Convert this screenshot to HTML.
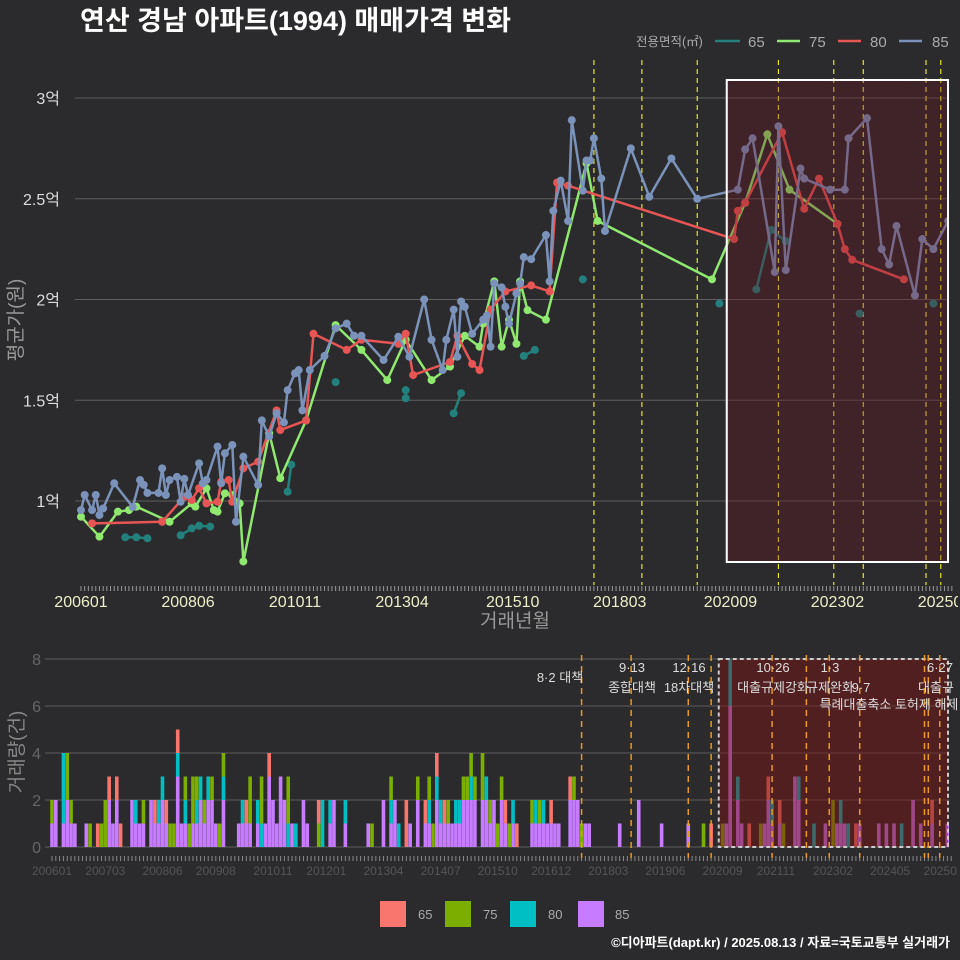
<!DOCTYPE html>
<html><head><meta charset="utf-8"><style>
body{margin:0;background:#2b2b2d;}
svg{display:block;font-family:"Liberation Sans","Noto Sans CJK KR",sans-serif;}
</style></head><body>
<svg id="chart" width="960" height="960" viewBox="0 0 960 960" xmlns="http://www.w3.org/2000/svg">
<rect width="960" height="960" fill="#2b2b2d"/>
<text x="80" y="30" fill="#ffffff" font-size="27" font-weight="bold">연산 경남 아파트(1994) 매매가격 변화</text>
<g id="legendTop" font-size="15" fill="#aaaaaa">
<text x="636" y="46" font-size="12.5">전용면적(㎡)</text>
<line x1="715" y1="41" x2="740" y2="41" stroke="#23807c" stroke-width="2.5"/><text x="748" y="47">65</text>
<line x1="777" y1="41" x2="800" y2="41" stroke="#90e870" stroke-width="2.5"/><text x="809" y="47">75</text>
<line x1="838" y1="41" x2="861" y2="41" stroke="#e85555" stroke-width="2.5"/><text x="870" y="47">80</text>
<line x1="899" y1="41" x2="922" y2="41" stroke="#7b93bb" stroke-width="2.5"/><text x="932" y="47">85</text>
</g>
<g id="topPanel"></g>
<g id="botPanel"></g>
<g font-size="13" fill="#aaaaaa">
<rect x="380" y="901" width="26" height="26" fill="#f8766d"/><text x="418" y="919">65</text>
<rect x="445" y="901" width="26" height="26" fill="#7cae00"/><text x="483" y="919">75</text>
<rect x="510" y="901" width="26" height="26" fill="#00bfc4"/><text x="548" y="919">80</text>
<rect x="578" y="901" width="26" height="26" fill="#c77cff"/><text x="615" y="919">85</text>
</g>
<text x="950" y="947" text-anchor="end" fill="#ffffff" font-size="13" font-weight="bold">©디아파트(dapt.kr) / 2025.08.13 / 자료=국토교통부 실거래가</text>
</svg>
<script>
// ---- price data (month index from 2006-01, value in 억) ----
const m85=[0,1,3,4,5,6,9,14,16,17,18,21,22,23,24,26,27,28,29,32,33,34,37,38,39,41,42,44,48,49,51,53,55,56,58,59,60,62,66,69,72,74,76,82,86,89,93,95,98,99,101,102,103,104,106,109,110,111,112,114,115,116,118,119,120,122,126,127,128,130,132,133,136,137,138,139,141,142,149,154,160,167,178,180,182,188,189,191,195,196,203,207,208,213,217,219,221,226,228,231,235];
const v85=[0.955,1.03,0.955,1.03,0.93,0.963,1.088,0.97,1.104,1.08,1.04,1.04,1.162,1.03,1.104,1.12,0.996,1.11,1.03,1.187,1.088,1.104,1.27,1.088,1.237,1.278,0.897,1.22,1.08,1.40,1.32,1.435,1.39,1.55,1.634,1.65,1.45,1.65,1.72,1.857,1.88,1.82,1.82,1.70,1.815,1.716,2.0,1.80,1.65,1.80,1.95,1.716,1.99,1.964,1.83,1.90,1.92,1.766,2.08,2.06,1.964,1.88,2.03,2.08,2.21,2.20,2.32,2.09,2.44,2.59,2.39,2.89,2.54,2.69,2.69,2.80,2.60,2.34,2.75,2.51,2.70,2.50,2.545,2.745,2.80,2.136,2.86,2.146,2.65,2.60,2.545,2.545,2.80,2.90,2.25,2.174,2.365,2.02,2.30,2.25,2.39];
const m75=[0,5,10,13,15,24,30,31,34,36,37,39,41,43,44,51,54,61,69,76,83,88,95,100,104,108,109,112,114,116,118,119,121,126,137,140,171,180,186,192,205];
const v75=[0.922,0.823,0.947,0.955,0.972,0.897,0.988,0.972,1.063,0.955,0.947,1.038,1.03,0.988,0.70,1.336,1.113,1.40,1.873,1.75,1.60,1.80,1.60,1.667,1.82,1.766,1.88,2.09,1.766,1.90,1.78,2.09,1.947,1.90,2.676,2.39,2.10,2.48,2.82,2.545,2.375];
const m80=[3,22,28,30,32,34,37,38,40,41,44,48,53,54,61,63,72,76,86,88,90,100,102,106,108,111,115,122,127,129,132,177,178,180,190,196,200,205,207,209,223];
const v80=[0.889,0.897,1.021,1.005,1.063,0.988,0.996,1.096,1.104,0.996,1.162,1.195,1.45,1.352,1.40,1.83,1.75,1.80,1.78,1.83,1.625,1.69,1.82,1.68,1.65,1.95,2.04,2.07,2.04,2.58,2.565,2.30,2.44,2.48,2.83,2.45,2.60,2.375,2.25,2.197,2.10];
const m65=[12,15,18,27,30,32,35,56,57,69,88,88,101,103,120,123,136,173,183,187,191,211,231];
const v65=[0.82,0.82,0.815,0.83,0.864,0.877,0.873,1.046,1.18,1.59,1.55,1.51,1.435,1.535,1.72,1.75,2.10,1.98,2.05,2.345,2.29,1.93,1.98];
const yTicks=[1,1.5,2,2.5,3];
const yTickLabels=["1억","1.5억","2억","2.5억","3억"];
const topLabelMonths=[0,29,58,87,117,146,176,205,234];
const topLabels=["200601","200806","201011","201304","201510","201803","202009","202302","202507"];
const topEventMonths=[139,152,167,189,204,212,229,233];
// ---- volume data: one entry per transaction month ----
const deals85=[0,1,1,3,4,4,5,6,9,15,15,16,17,17,21,21,22,23,24,26,26,27,28,29,29,30,33,33,33,34,35,37,38,39,39,40,41,41,42,42,43,45,45,49,50,51,52,54,56,57,57,57,58,58,59,60,60,60,61,61,63,66,66,67,73,74,74,77,83,87,87,89,90,90,94,96,96,98,99,101,101,102,103,104,105,106,107,108,108,109,109,110,110,111,111,113,113,114,114,115,116,116,118,118,119,121,126,127,128,129,130,131,132,133,136,136,137,137,138,138,140,141,149,154,154,160,167,177,178,178,178,178,178,178,180,180,181,187,188,188,189,191,195,195,195,196,196,203,206,207,208,212,217,219,221,226,226,228,231,235];
const deals80=[3,3,3,22,28,29,33,35,38,39,41,45,50,54,55,62,64,71,71,73,77,89,91,99,101,102,106,107,110,114,121,127,129,178,178,180,189,196,200,207,209,223];
const deals75=[0,4,4,5,10,13,14,14,24,31,32,35,36,37,37,38,40,42,44,45,52,52,55,55,62,62,70,84,89,96,99,100,104,108,109,110,111,113,113,115,117,118,120,126,128,137,139,171,176,186,192,205,205];
const deals65=[12,15,17,18,27,30,33,51,57,70,93,93,98,101,103,119,122,131,136,173,183,188,191,211,231];
const volTicks=[0,2,4,6,8];
const botLabelMonths=[0,14,29,43,58,72,87,102,117,131,146,161,176,190,205,220,234];
const botLabels=["200601","200703","200806","200908","201011","201201","201304","201407","201510","201612","201803","201906","202009","202111","202302","202405","202507"];
const botEventMonths=[139,152,167,173,189,198,204,212,229,230,233];
const eventTexts=[["8·2 대책",560,682],["9·13",632,672],["종합대책",632,692],["12·16",689,672],["18차대책",689,692],["10·26",773,672],["대출규제강화",773,692],["1·3",830,672],["규제완화",830,692],["9·7",861,692],["특례대출축소 토허제 해제",889,709],["6·27",940,672],["대출규",936,692]];
const NS="http://www.w3.org/2000/svg";
function el(tag,attrs,parent){const e=document.createElementNS(NS,tag);for(const k in attrs)e.setAttribute(k,attrs[k]);parent.appendChild(e);return e;}
const topG=document.getElementById('topPanel'),botG=document.getElementById('botPanel');
const X=m=>81+m*3.69, Y=v=>501-(v-1)*201.5;
const XB=m=>52+m*3.81, YB=c=>847-c*23.5;
const defsEl=el('defs',{},document.getElementById('chart'));
const cp=el('clipPath',{id:'clipTop'},defsEl);el('rect',{x:75,y:55,width:874,height:535},cp);
const cpb=el('clipPath',{id:'clipBot'},defsEl);el('rect',{x:45,y:650,width:904,height:200},cpb);
const cpl=el('clipPath',{id:'clipLab'},defsEl);el('rect',{x:0,y:0,width:958,height:960},cpl);
yTicks.forEach((t,i)=>{
 const g=el('line',{x1:75,x2:949,y1:Y(t),y2:Y(t),stroke:'#5e5e5e','stroke-width':1},topG);
 
 
 const tx=el('text',{x:60,y:Y(t)+6,'text-anchor':'end',fill:'#dddddd','font-size':16},topG);tx.textContent=yTickLabels[i];
 
 
});
for(let m=0;m<=236;m++){const t=el('line',{x1:X(m),x2:X(m),y1:586,y2:591,stroke:'#9a9a9a','stroke-width':1},topG);
 
 }
const lg=el('g',{'clip-path':'url(#clipLab)'},topG);
topLabelMonths.forEach((m,i)=>{const t=el('text',{x:X(m),y:607,'text-anchor':'middle',fill:'#eeeec8','font-size':16},lg);t.textContent=topLabels[i];
 
 });
const xt=el('text',{x:515,y:627,'text-anchor':'middle',fill:'#999999','font-size':19},topG);xt.textContent='거래년월';


const yt=el('text',{x:0,y:0,'text-anchor':'middle',fill:'#999999','font-size':19,transform:'translate(22,320) rotate(-90)'},topG);yt.textContent='평균가(원)';


topEventMonths.forEach(m=>{const l=el('line',{x1:X(m),x2:X(m),y1:60,y2:585,stroke:'#e6e620','stroke-width':1.2,'stroke-dasharray':'5,4'},topG);
 
 });
const sg=el('g',{'clip-path':'url(#clipTop)'},topG);
function series(ms,vs,color,name,maxGap){
 let d='';for(let i=0;i<ms.length;i++){const cmd=(i===0||ms[i]-ms[i-1]>maxGap)?'M':'L';d+=cmd+X(ms[i]).toFixed(1)+','+Y(vs[i]).toFixed(1);}
 const p=el('path',{d:d,fill:'none',stroke:color,'stroke-width':2.5,'stroke-linejoin':'round'},sg);
 
 
 ms.forEach((m,i)=>{const c=el('circle',{cx:X(m),cy:Y(vs[i]),r:4,fill:color},sg);
  
  });
}
series(m65,v65,'#23807c','65',4);
series(m75,v75,'#90e870','75',999);
series(m80,v80,'#e85555','80',999);
series(m85,v85,'#7b93bb','85',999);
const hb=el('rect',{x:X(175),y:80,width:948-X(175),height:482,fill:'rgba(110,20,30,0.32)',stroke:'#ffffff','stroke-width':2},topG);


volTicks.forEach(t=>{const g=el('line',{x1:45,x2:949,y1:YB(t),y2:YB(t),stroke:'#5e5e5e','stroke-width':1},botG);
 
 
 const tx=el('text',{x:41,y:YB(t)+6,'text-anchor':'end',fill:'#666666','font-size':16},botG);tx.textContent=t;
 
 });
const byt=el('text',{x:0,y:0,'text-anchor':'middle',fill:'#888888','font-size':19,transform:'translate(23,752) rotate(-90)'},botG);byt.textContent='거래량(건)';


const counts={};
[['85',deals85],['80',deals80],['75',deals75],['65',deals65]].forEach(([k,arr])=>arr.forEach(m=>{counts[m]=counts[m]||{};counts[m][k]=(counts[m][k]||0)+1;}));
const bcol={'85':'#c77cff','80':'#00bfc4','75':'#7cae00','65':'#f8766d'};
const bg=el('g',{'clip-path':'url(#clipBot)'},botG);
Object.keys(counts).forEach(mk=>{const m=+mk;let base=0;['85','80','75','65'].forEach(k=>{const c=counts[mk][k]||0;if(!c)return;
 const r=el('rect',{x:XB(m)-1.8,y:YB(base+c),width:3.6,height:c*23.5,fill:bcol[k]},bg);
 
 
 base+=c;});});
for(let m=0;m<=236;m++){const t=el('line',{x1:XB(m),x2:XB(m),y1:856,y2:861,stroke:'#8a8a8a','stroke-width':1},botG);
 
 }
const blg=el('g',{'clip-path':'url(#clipLab)'},botG);
botLabelMonths.forEach((m,i)=>{const t=el('text',{x:XB(m),y:875,'text-anchor':'middle',fill:'#555555','font-size':12},blg);t.textContent=botLabels[i];
 
 });
const hb2=el('rect',{x:XB(175),y:659,width:948-XB(175),height:188,fill:'rgba(120,20,20,0.5)',stroke:'#cccccc','stroke-width':2,'stroke-dasharray':'4,3'},botG);


botEventMonths.forEach(m=>{const l=el('line',{x1:XB(m),x2:XB(m),y1:655,y2:858,stroke:'#e69a20','stroke-width':1.5,'stroke-dasharray':'6,5'},botG);
 
 });
const eg=el('g',{'clip-path':'url(#clipLab)'},botG);
eventTexts.forEach(([s,x,y])=>{const t=el('text',{x:x,y:y,'text-anchor':'middle',fill:'#dddddd','font-size':13},eg);t.textContent=s;
 
 });
</script>
</body></html>
